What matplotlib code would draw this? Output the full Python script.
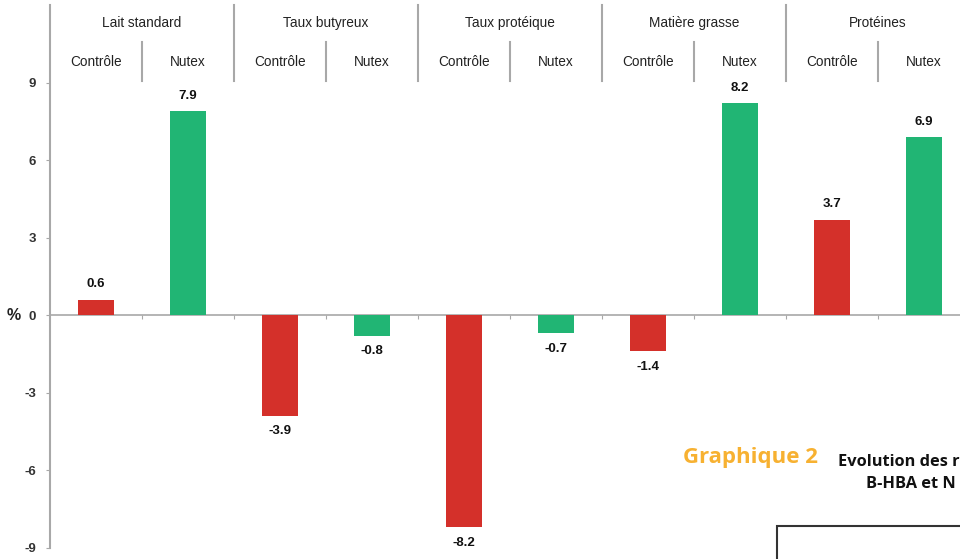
import matplotlib
matplotlib.use("Agg")
from matplotlib import pyplot as plt
from matplotlib.patches import Rectangle

plt.rcParams['font.family'] = ['Liberation Sans', 'DejaVu Sans']

groups = ["Lait standard", "Taux butyreux", "Taux protéique", "Matière grasse", "Protéines"]
subs = ["Contrôle", "Nutex"]
values = [0.6, 7.9, -3.9, -0.8, -8.2, -0.7, -1.4, 8.2, 3.7, 6.9]
yticks = [-9, -6, -3, 0, 3, 6, 9]

red = "#d4302a"
green = "#21b574"
grey = "#a8a8a8"

fig = plt.figure(figsize=(9.6, 5.59), dpi=100)
ax = fig.add_axes([50/960, 11/559, 920/960, 543/559])

x = list(range(len(values)))
colors = [red if i % 2 == 0 else green for i in x]
ax.bar(x, values, width=0.40, color=colors, zorder=3)

for i, v in enumerate(values):
    off = 11 if v > 0 else -11
    ax.annotate("%.1f" % v, (i, v), textcoords="offset points", xytext=(0, off),
                ha="center", va="center", fontsize=9.5, fontweight="bold", color="#111111")

ax.set_xlim(-0.5, 9.5)
ax.set_ylim(-9, 12.0)

# axes styling
for s in ["top", "right"]:
    ax.spines[s].set_visible(False)
ax.spines["bottom"].set_position(("data", 0))
ax.spines["bottom"].set_color(grey)
ax.spines["left"].set_color(grey)
ax.spines["left"].set_linewidth(1.5)
ax.spines["bottom"].set_linewidth(1.2)
ax.set_yticks(yticks)
ax.set_yticklabels([str(t) for t in yticks], fontsize=9.5, fontweight="bold", color="#333333")
ax.tick_params(axis="y", length=3, color=grey, pad=7)
ax.set_xticks([i + 0.5 for i in range(len(values) - 1)])
ax.set_xticklabels([])
ax.tick_params(axis="x", length=3, color=grey, direction="out")
ax.text(-0.032, 0, "%", transform=ax.get_yaxis_transform(), ha="right", va="center",
        fontsize=11.5, fontweight="bold", color="#222222")

# header labels
for g, name in enumerate(groups):
    ax.text(2 * g + 0.5, 11.3, name, ha="center", va="center", fontsize=9.8, color="#222222")
    for k, sname in enumerate(subs):
        ax.text(2 * g + k, 9.78, sname, ha="center", va="center", fontsize=9.8, color="#222222")
    ax.plot([2 * g + 0.5, 2 * g + 0.5], [9.05, 10.55], color=grey, lw=1.5, clip_on=False)
    if g > 0:
        ax.plot([2 * g - 0.5, 2 * g - 0.5], [9.05, 12.0], color=grey, lw=1.5, clip_on=False)

# overlapping document text (cropped at the right edge in the reference)
fig.text(683/960, 1 - 457/559, "Graphique 2", fontsize=16, fontweight="bold",
         color="#f7b131", family=["Open Sans", "DejaVu Sans"], ha="left", va="center")
fig.text(838/960, 1 - 462/559, "Evolution des r", fontsize=11.8,
         fontweight="bold", color="#111111", family=["Open Sans", "DejaVu Sans"], ha="left", va="center")
fig.text(866/960, 1 - 484/559, "B-HBA et N", fontsize=11.8,
         fontweight="bold", color="#111111", family=["Open Sans", "DejaVu Sans"], ha="left", va="center")
fig.patches.append(Rectangle((777/960, -0.1), 0.3, 0.1 + (559 - 526)/559, transform=fig.transFigure,
                             fill=False, edgecolor="#333333", lw=1.5))

fig.savefig("out.png", dpi=100)
